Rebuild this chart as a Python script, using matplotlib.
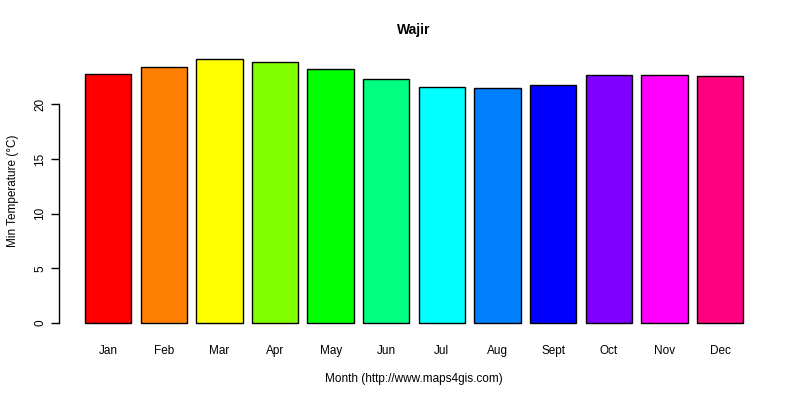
import matplotlib
matplotlib.use("Agg")
import matplotlib.pyplot as plt
import numpy as np

months = ["Jan", "Feb", "Mar", "Apr", "May", "Jun", "Jul", "Aug", "Sept", "Oct", "Nov", "Dec"]
min_temp = [22.8, 23.4, 24.1, 23.9, 23.2, 22.3, 21.6, 21.5, 21.8, 22.7, 22.7, 22.6]
colors = ["#FF0000", "#FF8000", "#FFFF00", "#80FF00", "#00FF00", "#00FF80",
          "#00FFFF", "#0080FF", "#0000FF", "#8000FF", "#FF00FF", "#FF0080"]
yticks = [0, 5, 10, 15, 20]

plt.rcParams['font.family'] = ['Liberation Sans', 'DejaVu Sans']

fig = plt.figure(figsize=(8, 4), dpi=100)
ax = fig.add_axes([0.0734, 0.166, 0.8884, 0.712])

n = len(months)
lefts = 0.2 + np.arange(n) * 1.2
centers = lefts + 0.5
ax.bar(centers, min_temp, width=1.0, color=colors, edgecolor="black", linewidth=1.0)

xr = lefts[-1] + 1.0 - lefts[0]
ax.set_xlim(lefts[0] - 0.04 * xr, lefts[-1] + 1.0 + 0.04 * xr)
ymax = max(min_temp)
ax.set_ylim(-0.04 * ymax, ymax * 1.04)

for s in ["top", "right", "bottom"]:
    ax.spines[s].set_visible(False)
ax.spines["left"].set_bounds(0, 20)
ax.spines["left"].set_linewidth(1.0)

ax.set_yticks(yticks)
ax.set_yticklabels([str(v) for v in yticks], rotation=90, va="center", fontsize=8.5)
ax.tick_params(axis="y", length=6, width=1.0, pad=3)
ax.set_xticks(centers)
ax.set_xticklabels(months, fontsize=8.5)
ax.tick_params(axis="x", length=0, pad=8)

ax.set_xlabel("Month (http://www.maps4gis.com)", fontsize=8.5, labelpad=12)
ax.set_ylabel("Min Temperature (°C)", fontsize=8.5, labelpad=11)
ax.set_title("Wajir", fontsize=10, fontweight="bold", pad=11)

fig.savefig("out.png", dpi=100)
